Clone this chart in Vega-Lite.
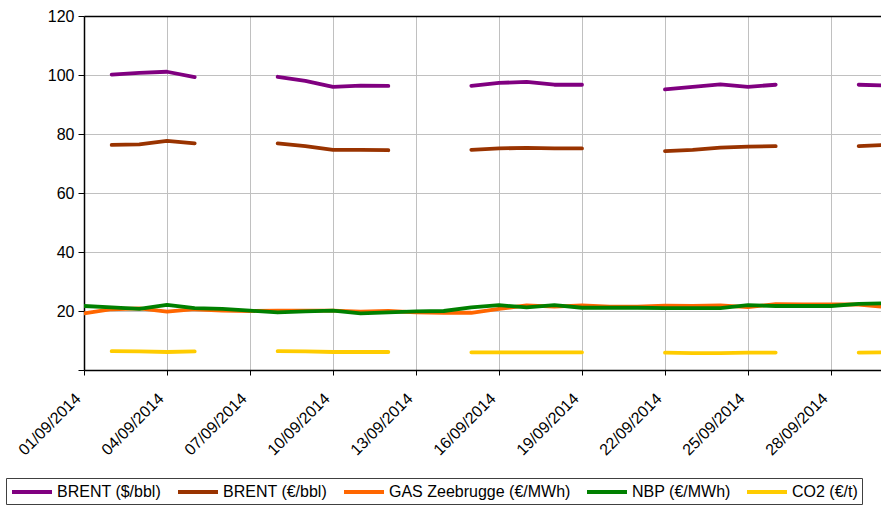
{
  "$schema": "https://vega.github.io/schema/vega-lite/v6.json",
  "autosize": {"type": "none"},
  "padding": {"left": 84, "top": 16, "right": 0, "bottom": 136},
  "width": 797,
  "height": 354,
  "background": "white",
  "config": {
    "view": {"stroke": null},
    "font": "Liberation Sans",
    "axis": {"labelFont": "Liberation Sans", "labelFontSize": 16, "labelColor": "black", "domainColor": "black", "tickColor": "black", "domainWidth": 1.5, "gridColor": "#c0c0c0", "gridWidth": 1}
  },
  "data": {
    "values": [
      {"date": "2014-09-01", "brent_usd": null, "brent_eur": null, "gas": 19.2, "nbp": 21.7, "co2": null},
      {"date": "2014-09-02", "brent_usd": 100.1, "brent_eur": 76.3, "gas": 20.6, "nbp": 21.2, "co2": 6.4},
      {"date": "2014-09-03", "brent_usd": 100.7, "brent_eur": 76.5, "gas": 20.9, "nbp": 20.7, "co2": 6.3},
      {"date": "2014-09-04", "brent_usd": 101.1, "brent_eur": 77.7, "gas": 19.8, "nbp": 22.1, "co2": 6.1},
      {"date": "2014-09-05", "brent_usd": 99.3, "brent_eur": 76.8, "gas": 20.6, "nbp": 21.0, "co2": 6.3},
      {"date": "2014-09-06", "brent_usd": null, "brent_eur": null, "gas": 20.1, "nbp": 20.7, "co2": null},
      {"date": "2014-09-07", "brent_usd": null, "brent_eur": null, "gas": 20.0, "nbp": 20.1, "co2": null},
      {"date": "2014-09-08", "brent_usd": 99.4, "brent_eur": 76.8, "gas": 20.1, "nbp": 19.5, "co2": 6.4},
      {"date": "2014-09-09", "brent_usd": 98.0, "brent_eur": 75.9, "gas": 20.1, "nbp": 19.9, "co2": 6.3},
      {"date": "2014-09-10", "brent_usd": 96.0, "brent_eur": 74.6, "gas": 20.1, "nbp": 20.1, "co2": 6.1},
      {"date": "2014-09-11", "brent_usd": 96.4, "brent_eur": 74.6, "gas": 19.8, "nbp": 19.2, "co2": 6.1},
      {"date": "2014-09-12", "brent_usd": 96.3, "brent_eur": 74.5, "gas": 20.0, "nbp": 19.5, "co2": 6.1},
      {"date": "2014-09-13", "brent_usd": null, "brent_eur": null, "gas": 19.5, "nbp": 19.9, "co2": null},
      {"date": "2014-09-14", "brent_usd": null, "brent_eur": null, "gas": 19.4, "nbp": 20.0, "co2": null},
      {"date": "2014-09-15", "brent_usd": 96.3, "brent_eur": 74.6, "gas": 19.4, "nbp": 21.2, "co2": 6.0},
      {"date": "2014-09-16", "brent_usd": 97.3, "brent_eur": 75.1, "gas": 20.7, "nbp": 22.0, "co2": 6.0},
      {"date": "2014-09-17", "brent_usd": 97.7, "brent_eur": 75.3, "gas": 21.9, "nbp": 21.2, "co2": 6.0},
      {"date": "2014-09-18", "brent_usd": 96.7, "brent_eur": 75.1, "gas": 21.5, "nbp": 22.0, "co2": 6.0},
      {"date": "2014-09-19", "brent_usd": 96.7, "brent_eur": 75.1, "gas": 21.9, "nbp": 21.1, "co2": 6.0},
      {"date": "2014-09-20", "brent_usd": null, "brent_eur": null, "gas": 21.5, "nbp": 21.1, "co2": null},
      {"date": "2014-09-21", "brent_usd": null, "brent_eur": null, "gas": 21.5, "nbp": 21.1, "co2": null},
      {"date": "2014-09-22", "brent_usd": 95.1, "brent_eur": 74.2, "gas": 21.8, "nbp": 21.0, "co2": 5.9},
      {"date": "2014-09-23", "brent_usd": 96.0, "brent_eur": 74.6, "gas": 21.7, "nbp": 21.0, "co2": 5.7},
      {"date": "2014-09-24", "brent_usd": 96.8, "brent_eur": 75.4, "gas": 21.9, "nbp": 21.0, "co2": 5.7},
      {"date": "2014-09-25", "brent_usd": 96.0, "brent_eur": 75.7, "gas": 21.3, "nbp": 22.0, "co2": 5.9},
      {"date": "2014-09-26", "brent_usd": 96.7, "brent_eur": 75.9, "gas": 22.3, "nbp": 21.7, "co2": 5.9},
      {"date": "2014-09-27", "brent_usd": null, "brent_eur": null, "gas": 22.2, "nbp": 21.7, "co2": null},
      {"date": "2014-09-28", "brent_usd": null, "brent_eur": null, "gas": 22.2, "nbp": 21.7, "co2": null},
      {"date": "2014-09-29", "brent_usd": 96.7, "brent_eur": 75.9, "gas": 22.2, "nbp": 22.4, "co2": 5.9},
      {"date": "2014-09-30", "brent_usd": 96.4, "brent_eur": 76.3, "gas": 21.3, "nbp": 22.6, "co2": 6.0}
    ]
  },
  "transform": [
    {"fold": ["brent_usd", "brent_eur", "gas", "nbp", "co2"], "as": ["series", "value"]}
  ],
  "mark": {"type": "line", "strokeWidth": 3.8, "clip": true, "invalid": "break-paths-show-domains", "strokeCap": "round", "strokeJoin": "round"},
  "encoding": {
    "x": {
      "field": "date",
      "type": "temporal",
      "scale": {"type": "utc", "domain": [{"year": 2014, "month": 9, "date": 1, "utc": true}, {"year": 2014, "month": 9, "date": 29, "hours": 19, "minutes": 22, "utc": true}]},
      "axis": {
        "title": null,
        "labelExpr": "utcFormat(datum.value, '%d/%m/%Y')",
        "labelAngle": -45,
        "tickSize": 5,
        "labelPadding": 15,
        "labelOffset": -12,
        "labelBound": false,
        "labelOverlap": false,
        "values": [
          {"year": 2014, "month": 9, "date": 1, "utc": true},
          {"year": 2014, "month": 9, "date": 4, "utc": true},
          {"year": 2014, "month": 9, "date": 7, "utc": true},
          {"year": 2014, "month": 9, "date": 10, "utc": true},
          {"year": 2014, "month": 9, "date": 13, "utc": true},
          {"year": 2014, "month": 9, "date": 16, "utc": true},
          {"year": 2014, "month": 9, "date": 19, "utc": true},
          {"year": 2014, "month": 9, "date": 22, "utc": true},
          {"year": 2014, "month": 9, "date": 25, "utc": true},
          {"year": 2014, "month": 9, "date": 28, "utc": true}
        ]
      }
    },
    "y": {
      "field": "value",
      "type": "quantitative",
      "scale": {"domain": [0, 120], "nice": false, "zero": true},
      "axis": {
        "title": null,
        "values": [0, 20, 40, 60, 80, 100, 120],
        "tickSize": 6,
        "labelPadding": 4,
        "labelExpr": "datum.value == 0 ? '' : datum.label",
        "gridColor": {"condition": {"test": "datum.value == 120", "value": "black"}, "value": "#c0c0c0"},
        "gridWidth": {"condition": {"test": "datum.value == 120", "value": 1.5}, "value": 1}
      }
    },
    "color": {
      "field": "series",
      "type": "nominal",
      "scale": {"domain": ["brent_usd", "brent_eur", "gas", "nbp", "co2"], "range": ["#800080", "#993300", "#FF6600", "#008000", "#FFCC00"]},
      "legend": {
        "title": null,
        "orient": "none",
        "legendX": -78,
        "legendY": 462,
        "direction": "horizontal",
        "symbolType": "M-1,0H4",
        "symbolSize": 256,
        "symbolStrokeWidth": 4,
        "symbolFillColor": "transparent",
        "labelFont": "Liberation Sans",
        "labelFontSize": 16,
        "labelColor": "black",
        "labelOffset": 27,
        "columnPadding": 8,
        "padding": 4,
        "strokeColor": "#404040",
        "labelLimit": 300,
        "labelExpr": "datum.label == 'brent_usd' ? 'BRENT ($/bbl)' : datum.label == 'brent_eur' ? 'BRENT (€/bbl)' : datum.label == 'gas' ? 'GAS Zeebrugge (€/MWh)' : datum.label == 'nbp' ? 'NBP (€/MWh)' : 'CO2 (€/t)'"
      }
    },
    "order": {"field": "series", "sort": "ascending"}
  }
}
